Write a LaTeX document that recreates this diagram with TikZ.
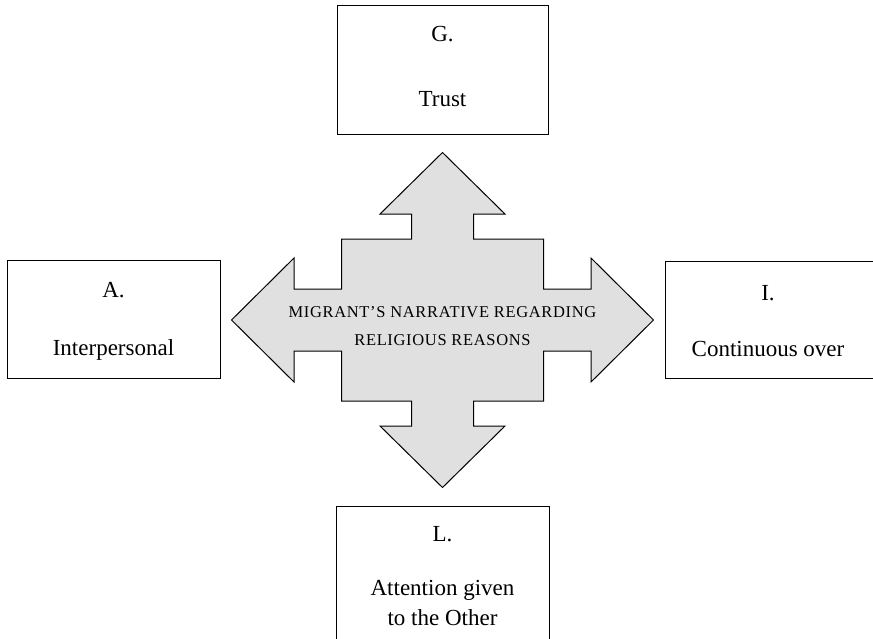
\documentclass[tikz,border=0pt]{standalone}
\usepackage{fontspec}
\setmainfont{Liberation Serif}
\begin{document}
\begin{tikzpicture}[x=1pt,y=-1pt,
  framebox/.style={draw=black,line width=1pt,fill=white},
  boxtext/.style={anchor=base,font=\fontsize{23}{27}\selectfont,inner sep=0pt},
  crossarrow/.style={draw=black,line width=1pt,fill=black!12,line join=miter},
  coretext/.style={align=center,inner sep=0pt,
    font=\fontsize{16.5}{28.5}\selectfont\addfontfeatures{LetterSpace=4}}]
\useasboundingbox (0,0) rectangle (873,638);
\clip (0,0) rectangle (873,638);

% four outer boxes
\node[framebox,minimum width=211pt,minimum height=129pt,inner sep=0pt] (G) at (442.5,69.5) {};
\node[framebox,minimum width=213pt,minimum height=118pt,inner sep=0pt] (A) at (113.5,319) {};
\node[framebox,minimum width=213pt,minimum height=117pt,inner sep=0pt] (I) at (771.5,319.5) {};
\node[framebox,minimum width=213pt,minimum height=150pt,inner sep=0pt] (L) at (442.5,581) {};

% box labels
\node[boxtext] (Gh) at (442.5,41) {G.};
\node[boxtext] (Gt) at (442.5,106) {Trust};
\node[boxtext] (Ah) at (113.5,297) {A.};
\node[boxtext] (At) at (113.5,355) {Interpersonal};
\node[boxtext] (Ih) at (768,300) {I.};
\node[boxtext] (It) at (768,356) {Continuous over};
\node[boxtext] (Lh) at (442.5,541) {L.};
\node[boxtext] (Lt) at (442.5,595) {Attention given};
\node[boxtext] (Lu) at (442.5,625) {to the Other};

% four-way arrow in the middle
\draw[crossarrow]
  (442.5,152.5) -- (505,214) -- (473.5,214) -- (473.5,239) -- (543.5,239)
  -- (543.5,289) -- (591,289) -- (591,258) -- (653.5,320) -- (591,382)
  -- (591,351) -- (543.5,351) -- (543.5,401) -- (473.5,401) -- (473.5,426)
  -- (505,426) -- (442.5,487.5) -- (380,426) -- (411.5,426) -- (411.5,401)
  -- (341.5,401) -- (341.5,351) -- (294,351) -- (294,382) -- (231.5,320)
  -- (294,258) -- (294,289) -- (341.5,289) -- (341.5,239) -- (411.5,239)
  -- (411.5,214) -- (380,214) -- cycle;
\node[coretext] (core) at (442.5,326) {MIGRANT’S NARRATIVE REGARDING\\RELIGIOUS REASONS};
\end{tikzpicture}
\end{document}
